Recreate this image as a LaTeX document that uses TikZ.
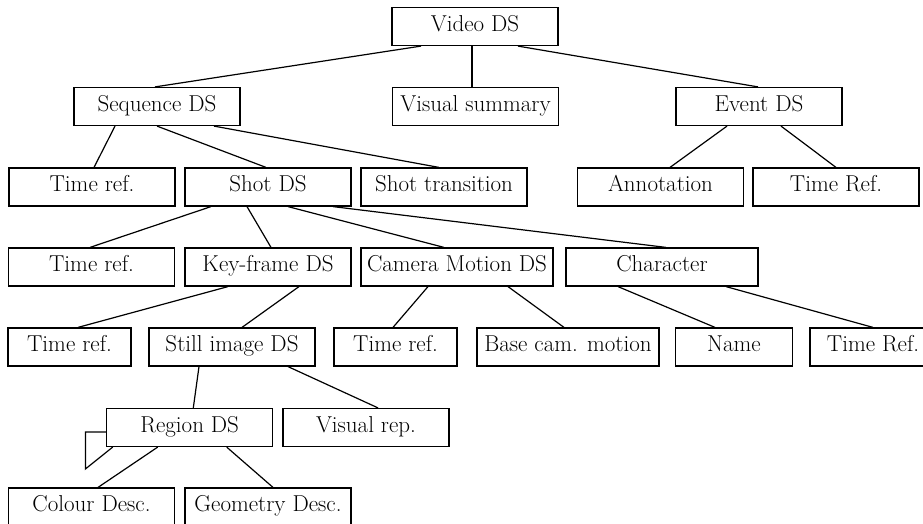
\documentclass[tikz,border=0pt]{standalone}
\usepackage{fontspec}
\begin{document}
\begin{tikzpicture}[x=1pt,y=-1pt,
  box/.style={draw, line width=1.2pt, minimum height=38pt, inner sep=0pt,
    text height=16pt, text depth=6.5pt, font=\fontsize{23}{26}\selectfont},
  w166/.style={box, minimum width=166pt},
  conn/.style={line width=1.2pt}]
\useasboundingbox (0,0) rectangle (923,524);
\clip (0,0) rectangle (923,524);
% row 0
\node[w166] (video) at (475,26.5) {Video DS};
% row 1
\node[w166] (seq) at (157,106.5) {Sequence DS};
\node[w166] (visual) at (475.5,106.5) {Visual summary};
\node[w166] (event) at (759,106.5) {Event DS};
% row 2
\node[w166] (time1) at (92,187) {Time ref.};
\node[w166] (shot) at (268,187) {Shot DS};
\node[w166] (trans) at (444,187) {Shot transition};
\node[w166] (annot) at (660.5,187) {Annotation};
\node[w166] (timeR1) at (836,187) {Time Ref.};
% row 3
\node[w166] (time2) at (91.5,267) {Time ref.};
\node[w166] (key) at (268,267) {Key-frame DS};
\node[box, minimum width=192pt] (cam) at (457,267) {Camera Motion DS};
\node[box, minimum width=192pt] (char) at (662,267) {Character};
% row 4
\node[box, minimum width=123pt] (time3) at (69.5,347) {Time ref.};
\node[w166] (still) at (232,347) {Still image DS};
\node[box, minimum width=123pt] (time4) at (395.5,347) {Time ref.};
\node[box, minimum width=182pt] (base) at (568,347) {Base cam. motion};
\node[box, minimum width=117pt] (name) at (734,347) {Name};
\node[box, minimum width=126pt] (timeR2) at (873,347) {Time Ref.};
% row 5
\node[w166] (region) at (189.7,427.5) {Region DS};
\node[w166] (visrep) at (366,427.5) {Visual rep.};
% row 6
\node[w166] (colour) at (91.5,507) {Colour Desc.};
\node[w166] (geom) at (268,507) {Geometry Desc.};
% connectors
\draw[conn] ([xshift=-54pt]video.south) -- ([xshift=-2pt]seq.north);
\draw[conn] ([xshift=-3pt]video.south) -- ([xshift=-3.5pt]visual.north);
\draw[conn] ([xshift=43pt]video.south) -- ([xshift=-1pt]event.north);
\draw[conn] ([xshift=-42pt]seq.south) -- ([xshift=2pt]time1.north);
\draw[conn] (seq.south) -- ([xshift=-2pt]shot.north);
\draw[conn] ([xshift=57pt]seq.south) -- ([xshift=-5pt]trans.north);
\draw[conn] ([xshift=-32pt]event.south) -- ([xshift=9.5pt]annot.north);
\draw[conn] ([xshift=22pt]event.south) -- (timeR1.north);
\draw[conn] ([xshift=-57pt]shot.south) -- ([xshift=-1.5pt]time2.north);
\draw[conn] ([xshift=-21pt]shot.south) -- ([xshift=3pt]key.north);
\draw[conn] ([xshift=20pt]shot.south) -- ([xshift=-13pt]cam.north);
\draw[conn] ([xshift=65pt]shot.south) -- ([xshift=4pt]char.north);
\draw[conn] ([xshift=-40pt]key.south) -- ([xshift=8.5pt]time3.north);
\draw[conn] ([xshift=31pt]key.south) -- ([xshift=10pt]still.north);
\draw[conn] ([xshift=-29pt]cam.south) -- ([xshift=-2.5pt]time4.north);
\draw[conn] ([xshift=51pt]cam.south) -- ([xshift=-4pt]base.north);
\draw[conn] ([xshift=-44pt]char.south) -- ([xshift=-19pt]name.north);
\draw[conn] ([xshift=64pt]char.south) -- (timeR2.north);
\draw[conn] ([xshift=-33pt]still.south) -- ([xshift=3.6pt]region.north);
\draw[conn] ([xshift=56pt]still.south) -- ([xshift=12pt]visrep.north);
\draw[conn] ([xshift=-32pt]region.south) -- ([xshift=6.5pt]colour.north);
\draw[conn] ([xshift=37pt]region.south) -- ([xshift=5pt]geom.north);
\draw[conn] ([yshift=-4.5pt]region.west) -- ++(-20.7,0) -- ++(0,37) -- ([xshift=6.6pt]region.south west);
\end{tikzpicture}
\end{document}
